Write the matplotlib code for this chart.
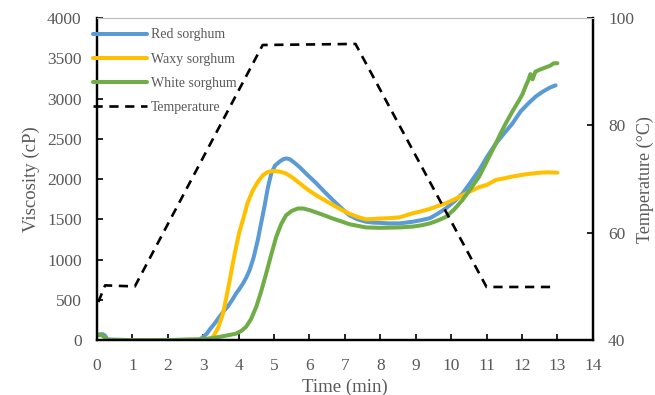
import numpy as np
import matplotlib.pyplot as plt

plt.rcParams['font.family'] = ['Liberation Serif', 'DejaVu Serif']

# viscosity curves (time in min, viscosity in cP)
red_t = [0.05, 0.15, 0.22, 0.3, 1.0, 2.0, 2.9, 3.0, 3.1, 3.2, 3.33, 3.46, 3.6, 3.7, 3.82, 3.93,
         4.03, 4.12, 4.22, 4.31, 4.42, 4.54, 4.63, 4.73, 4.82, 4.92, 5.03, 5.15, 5.25, 5.34,
         5.43, 5.5, 5.6, 5.72, 5.95, 6.19, 6.42, 6.66, 6.9, 7.13, 7.36, 7.6, 7.8, 7.97, 8.25,
         8.54, 8.91, 9.15, 9.4, 9.62, 9.85, 10.08, 10.32, 10.55, 10.79, 11.02, 11.26, 11.5,
         11.73, 11.96, 12.2, 12.4, 12.6, 12.8, 12.95]
red_v = [70, 75, 60, 5, 0, 0, 5, 40, 80, 140, 210, 290, 370, 420, 500, 580,
         640, 700, 780, 870, 1020, 1240, 1440, 1660, 1880, 2070, 2170, 2215, 2245, 2257,
         2250, 2230, 2195, 2150, 2050, 1950, 1845, 1740, 1640, 1550, 1500, 1470, 1460, 1457, 1450,
         1450, 1470, 1490, 1515, 1570, 1636, 1720, 1820, 1960, 2110, 2280, 2440, 2570,
         2690, 2840, 2950, 3030, 3090, 3140, 3165]

waxy_t = [0.3, 1.0, 2.0, 3.0, 3.15, 3.28, 3.42, 3.56, 3.65, 3.75, 3.84, 3.93, 4.02, 4.12, 4.25,
          4.4, 4.55, 4.69, 4.83, 4.97, 5.15, 5.34, 5.52, 5.72, 5.95, 6.19, 6.42, 6.66, 6.9, 7.13,
          7.36, 7.6, 7.8, 7.97, 8.25, 8.54, 8.91, 9.15, 9.4, 9.62, 9.85, 10.08, 10.32, 10.55,
          10.79, 11.02, 11.26, 11.5, 11.7, 11.9, 12.1, 12.3, 12.5, 12.75, 13.0]
waxy_v = [0, 0, 0, 5, 15, 40, 150, 330, 520, 745, 960, 1160, 1340, 1490, 1700,
          1860, 1970, 2050, 2090, 2100, 2095, 2070, 2020, 1950, 1870, 1800, 1740, 1680, 1620, 1570,
          1530, 1500, 1505, 1510, 1515, 1525, 1575, 1600, 1630, 1665, 1700, 1745, 1800, 1850,
          1900, 1930, 1990, 2010, 2030, 2045, 2060, 2070, 2080, 2085, 2080]

white_t = [0.05, 0.12, 0.2, 0.3, 1.0, 2.0, 2.9, 3.2, 3.46, 3.7, 3.93, 4.08, 4.21, 4.35, 4.5,
           4.64, 4.78, 4.92, 5.06, 5.2, 5.34, 5.5, 5.67, 5.83, 6.0, 6.33, 6.66, 6.9, 7.13, 7.36,
           7.6, 8.0, 8.54, 8.91, 9.15, 9.4, 9.62, 9.85, 10.08, 10.32, 10.55, 10.79, 11.02, 11.26,
           11.4, 11.54, 11.73, 11.92, 12.02, 12.1, 12.18, 12.24, 12.3, 12.38, 12.5, 12.65, 12.8,
           12.9, 13.0]
white_v = [60, 65, 40, 5, 0, 0, 10, 20, 40, 60, 80, 115, 165, 260, 415,
           610, 830, 1060, 1280, 1440, 1550, 1605, 1635, 1635, 1615, 1565, 1510, 1475, 1440, 1420,
           1400, 1395, 1400, 1410, 1425, 1450, 1485, 1530, 1620, 1740, 1880, 2030, 2230, 2440,
           2570, 2690, 2840, 2980, 3060, 3150, 3230, 3305, 3240, 3335, 3360, 3385, 3410,
           3440, 3440]

# heating profile (degC)
temp_t = [0.04, 0.23, 1.07, 4.68, 7.3, 11.0, 12.95]
temp_v = [47.1, 50.2, 50.0, 95.0, 95.2, 49.9, 49.9]

grey = '#595959'

fig = plt.figure(figsize=(6.55, 3.95), dpi=100)
ax = fig.add_axes([0.148, 0.139, 0.757, 0.815])
ax2 = ax.twinx()

l1, = ax.plot(red_t, red_v, color='#5B9BD5', lw=2.9, solid_capstyle='round',
              solid_joinstyle='round', label='Red sorghum')
l2, = ax.plot(waxy_t, waxy_v, color='#FFC000', lw=2.9, solid_capstyle='round',
              solid_joinstyle='round', label='Waxy sorghum')
l3, = ax.plot(white_t, white_v, color='#70AD47', lw=2.9, solid_capstyle='round',
              solid_joinstyle='round', label='White sorghum')
l4, = ax2.plot(temp_t, temp_v, color='black', lw=1.9, ls=(0, (3.5, 2.5)), label='Temperature')

ax.set_xlim(0, 14)
ax.set_ylim(0, 4000)
ax2.set_ylim(40, 100)
ax.set_xticks(np.arange(0, 15, 1))
ax.set_yticks(np.arange(0, 4001, 500))
ax2.set_yticks([40, 60, 80, 100])

for a in (ax, ax2):
    for s in ('left', 'bottom', 'right'):
        a.spines[s].set_linewidth(1.6)
        a.spines[s].set_color('black')
    a.spines['top'].set_linewidth(0.8)
    a.spines['top'].set_color('#bfbfbf')
    a.tick_params(direction='in', length=4, width=1.2, color='black',
                  labelcolor=grey, labelsize=12.5)
ax.tick_params(axis='x', pad=13)
ax.tick_params(axis='y', pad=11)
ax2.tick_params(axis='y', pad=11)

ax.set_xlabel('Time (min)', color=grey, fontsize=13.5, labelpad=3)
ax.set_ylabel('Viscosity (cP)', color=grey, fontsize=13.5, labelpad=5)
ax2.set_ylabel('Temperature (\u00b0C)', color=grey, fontsize=13, labelpad=2)

leg = ax2.legend(handles=[l1, l2, l3, l4], loc='upper left', bbox_to_anchor=(-0.008, 0.968),
                 frameon=False, fontsize=10, handlelength=3.9, labelspacing=0.8,
                 handletextpad=0.3, borderpad=0, borderaxespad=0)
for t in leg.get_texts():
    t.set_color(grey)

fig.savefig('out.png', dpi=100)
